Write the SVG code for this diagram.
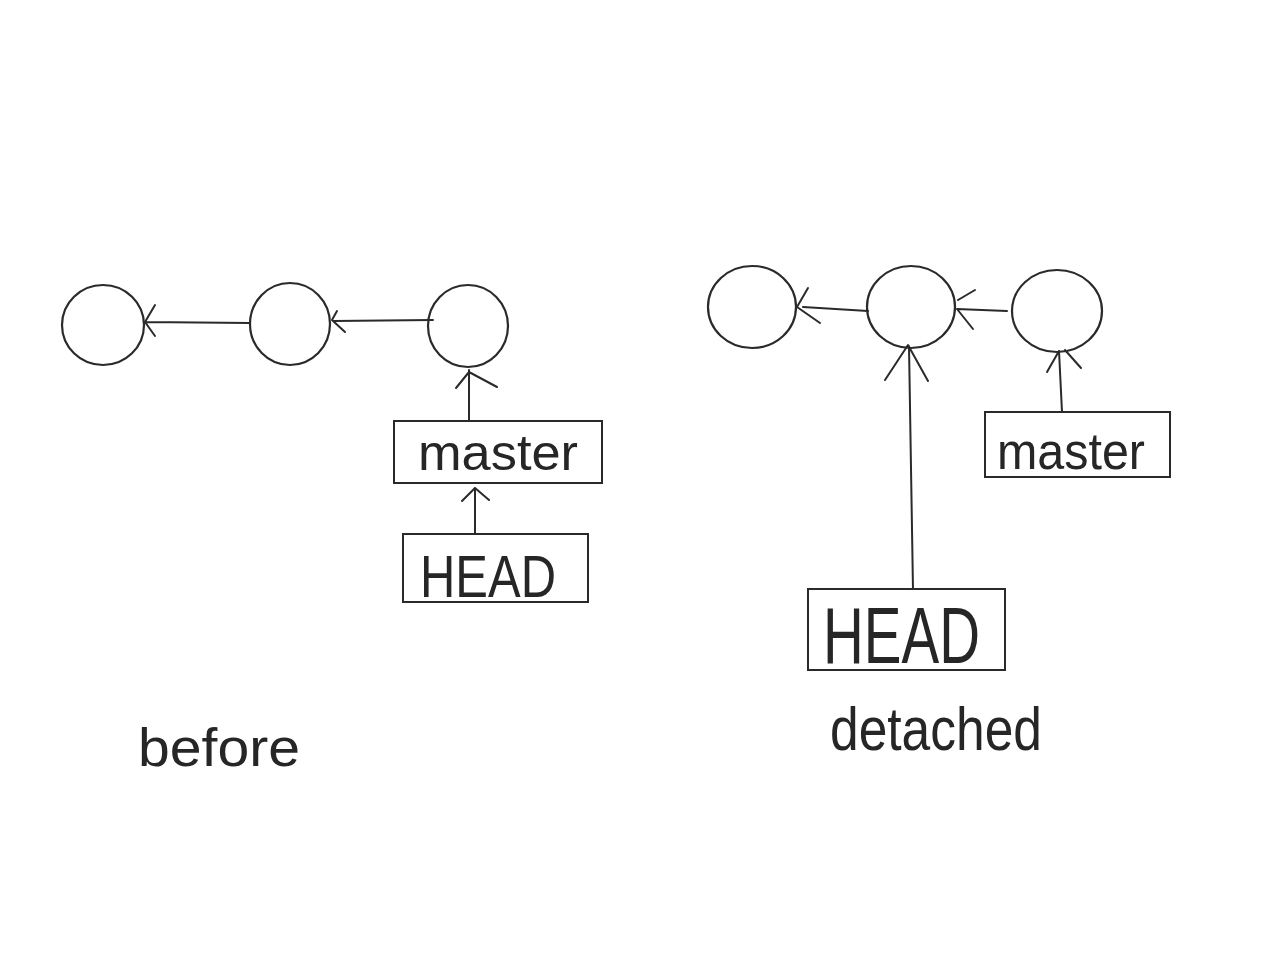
<svg xmlns="http://www.w3.org/2000/svg" width="1280" height="960" viewBox="0 0 1280 960">
<style>
.c{fill:none;stroke:#2a2a2a;stroke-width:2.2}
.b{fill:#fff;stroke:#2a2a2a;stroke-width:2}
.l{fill:none;stroke:#2a2a2a;stroke-width:2;stroke-linecap:round;stroke-linejoin:round}
.t{font-family:"Liberation Sans",Arial,sans-serif;fill:#262626;font-weight:normal}
</style>
<rect width="1280" height="960" fill="#fff"/>
<g id="connectors">
<path class="l" d="M250 323 L145 322 M155 305 L145 322 L155 336"/>
<path class="l" d="M433 320 L333 321 M337 311 L332 320 L345 332"/>
<path class="l" d="M469 421 L469 370 M456 388 L469 372 L497 387"/>
<path class="l" d="M475 534 L475 488 M462 501 L475 488 L489 500"/>
<path class="l" d="M868 311 L803 307 M808 288 L797 307 L820 323"/>
<path class="l" d="M1007 311 L957 309 M958 300 L975 290 M957 309 L973 329"/>
<path class="l" d="M913 590 L909 346 M885 380 L908 345 L928 381"/>
<path class="l" d="M1062 412 L1059 351 M1047 372 L1059 351 M1065 350 L1081 368"/>
</g>
<g id="c1"><ellipse class="c" cx="103" cy="325" rx="41" ry="40"/></g>
<g id="c2"><ellipse class="c" cx="290" cy="324" rx="40" ry="41"/></g>
<g id="c3"><ellipse class="c" cx="468" cy="326" rx="40" ry="41"/></g>
<g id="master-before">
<rect class="b" x="394" y="421" width="208" height="62"/>
<text class="t" x="418" y="470" font-size="50" textLength="160" lengthAdjust="spacingAndGlyphs">master</text>
</g>
<g id="head-before">
<rect class="b" x="403" y="534" width="185" height="68"/>
<text class="t" x="420" y="597" font-size="60" textLength="136" lengthAdjust="spacingAndGlyphs">HEAD</text>
</g>
<g id="label-before"><text class="t" x="138" y="766" font-size="54" textLength="162" lengthAdjust="spacingAndGlyphs">before</text></g>
<g id="c4"><ellipse class="c" cx="752" cy="307" rx="44" ry="41"/></g>
<g id="c5"><ellipse class="c" cx="911" cy="307" rx="44" ry="41"/></g>
<g id="c6"><ellipse class="c" cx="1057" cy="311" rx="45" ry="41"/></g>
<g id="master-after">
<rect class="b" x="985" y="412" width="185" height="65"/>
<text class="t" x="997" y="469" font-size="52" textLength="148" lengthAdjust="spacingAndGlyphs">master</text>
</g>
<g id="head-after">
<rect class="b" x="808" y="589" width="197" height="81"/>
<text class="t" x="823" y="663" font-size="80" textLength="157" lengthAdjust="spacingAndGlyphs">HEAD</text>
</g>
<g id="label-after"><text class="t" x="830" y="750" font-size="62" textLength="212" lengthAdjust="spacingAndGlyphs">detached</text></g>
</svg>
